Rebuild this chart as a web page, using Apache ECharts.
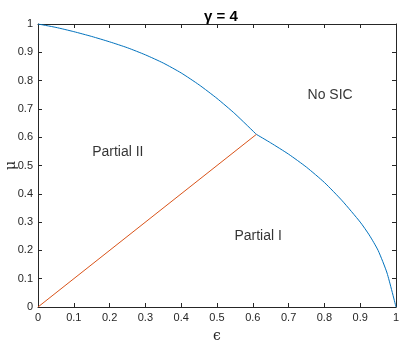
<!DOCTYPE html>
<html>
<head>
<meta charset="utf-8">
<script src="https://cdn.jsdelivr.net/npm/echarts@6/dist/echarts.min.js"></script>
<style>
  html, body { margin: 0; padding: 0; background: #fff; }
  #chart { width: 404px; height: 347px; }
</style>
</head>
<body>
<div id="chart"></div>
<script>
// upper boundary (Partial II / No SIC)
const upperEps = [0, 0.05, 0.1, 0.15, 0.2, 0.25, 0.3, 0.35, 0.4, 0.45, 0.5, 0.55, 0.61]
const upperMu = [1, 0.988, 0.973, 0.956, 0.937, 0.916, 0.891, 0.862, 0.827, 0.785, 0.737, 0.683, 0.61]

// lower boundary (Partial I / No SIC)
const lowerEps = [0.61, 0.65, 0.7, 0.75, 0.8, 0.85, 0.9, 0.925, 0.95, 0.975, 1]
const lowerMu = [0.61, 0.58, 0.54, 0.494, 0.44, 0.375, 0.3, 0.255, 0.2, 0.12, 0]

// diagonal split between Partial I and Partial II
const diagEps = [0, 0.61]
const diagMu = [0, 0.61]

const regionNames = ['No SIC', 'Partial II', 'Partial I']
const regionEps = [0.816, 0.223, 0.615]
const regionMu = [0.749, 0.548, 0.252]

const font = 'Liberation Sans, Arial, Helvetica, sans-serif'
const axisColor = '#262626'

function pairs(xs, ys) {
  return xs.map((x, i) => [x, ys[i]])
}

function mainAxis(name, position, gap) {
  return {
    type: 'value',
    min: 0,
    max: 1,
    interval: 0.1,
    position: position,
    name: name,
    nameLocation: 'middle',
    nameGap: gap,
    nameMoveOverlap: false,
    nameTextStyle: { color: axisColor, fontSize: 14, fontFamily: 'DejaVu Serif, serif' },
    axisLine: { show: true, onZero: false, lineStyle: { color: axisColor, width: 1 } },
    axisTick: { show: true, inside: true, length: 4, lineStyle: { color: axisColor } },
    axisLabel: {
      color: axisColor,
      fontSize: 11,
      fontFamily: font,
      margin: 5,
      formatter: v => String(Math.round(v * 10) / 10)
    },
    splitLine: { show: false }
  }
}

function boxAxis(position) {
  return {
    type: 'value',
    min: 0,
    max: 1,
    interval: 0.1,
    position: position,
    axisLine: { show: true, onZero: false, lineStyle: { color: axisColor, width: 1 } },
    axisTick: { show: true, inside: true, length: 4, lineStyle: { color: axisColor } },
    axisLabel: { show: false },
    splitLine: { show: false }
  }
}

const curveLine = { color: '#0072BD', width: 1 }

const chart = echarts.init(document.getElementById('chart'))
chart.setOption({
  animation: false,
  backgroundColor: '#fff',
  title: {
    text: 'γ = 4',
    left: 216,
    textAlign: 'center',
    top: 4,
    textStyle: { fontSize: 15, fontWeight: 'bold', color: '#000', fontFamily: font }
  },
  grid: {
    left: 38,
    right: 8,
    top: 24,
    bottom: 40,
    containLabel: false,
    outerBoundsMode: 'none'
  },
  xAxis: [
    mainAxis('ϵ', 'bottom', 22),
    boxAxis('top')
  ],
  yAxis: [
    mainAxis('μ', 'left', 20),
    boxAxis('right')
  ],
  series: [
    {
      type: 'line',
      data: pairs(upperEps, upperMu),
      symbol: 'none',
      smooth: 0.2,
      lineStyle: curveLine
    },
    {
      type: 'line',
      data: pairs(lowerEps, lowerMu),
      symbol: 'none',
      smooth: 0.2,
      lineStyle: curveLine
    },
    {
      type: 'line',
      data: pairs(diagEps, diagMu),
      symbol: 'none',
      lineStyle: { color: '#D95319', width: 1 }
    },
    {
      type: 'scatter',
      symbolSize: 0,
      data: regionNames.map((n, i) => ({ name: n, value: [regionEps[i], regionMu[i]] })),
      label: {
        show: true,
        position: 'inside',
        formatter: p => p.name,
        color: '#000',
        fontSize: 14,
        fontFamily: font
      }
    }
  ]
})
</script>
</body>
</html>
